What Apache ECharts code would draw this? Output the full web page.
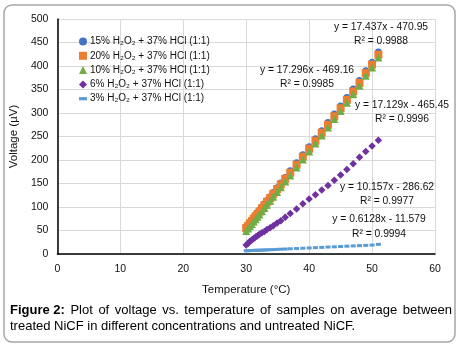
<!DOCTYPE html>
<html><head><meta charset="utf-8">
<script src="https://cdn.jsdelivr.net/npm/echarts@6/dist/echarts.min.js"></script>
<style>html,body{margin:0;padding:0;background:#fff}#c{width:462px;height:347px}</style>
</head><body><div id="c"></div><script>
// ---- data ----
const temps = [30.0, 30.3, 30.6, 30.9, 31.2, 31.5, 31.8, 32.1, 32.5, 32.9, 33.3, 33.8, 34.3, 34.9, 35.5, 36.2, 37.0, 38.0, 39.0, 40.0, 41.0, 42.0, 43.0, 44.0, 45.0, 46.0, 47.0, 48.0, 49.0, 50.0, 51.0];
const v15 = [58, 63, 68, 73, 78, 83, 88, 93, 100, 107, 114, 122, 131, 141, 151, 163, 177, 194, 211, 228, 245, 262, 280, 298, 315, 333, 351, 369, 390, 408, 430];
const v20 = [55, 60, 65, 70, 75, 80, 85, 90, 97, 104, 111, 119, 128, 138, 148, 160, 173, 190, 207, 224, 241, 258, 275, 293, 310, 328, 346, 364, 385, 403, 424];
const v10 = [49, 54, 59, 64, 69, 74, 79, 84, 91, 98, 105, 113, 122, 132, 142, 154, 167, 184, 201, 218, 235, 252, 269, 287, 304, 322, 340, 358, 379, 397, 418];
const v6 = [19, 23, 27, 30, 33, 36, 39, 42, 45, 48, 52, 56, 60, 66, 71, 78, 86, 96, 107, 117, 126, 136, 146, 157, 168, 180, 192, 206, 218, 230, 242];
const v3 = [7.0, 7.1, 7.3, 7.5, 7.6, 7.8, 8.0, 8.1, 8.3, 8.6, 8.8, 9.1, 9.4, 9.8, 10.2, 10.6, 11.1, 11.7, 12.3, 12.9, 13.5, 14.1, 14.8, 15.3, 16.0, 16.6, 17.2, 17.8, 18.4, 19.0, 20.5];
const seriesNames = ['15% H\u2082O\u2082 + 37% HCl (1:1)', '20% H\u2082O\u2082 + 37% HCl (1:1)', '10% H\u2082O\u2082 + 37% HCl (1:1)', '6% H\u2082O\u2082 + 37% HCl (1:1)', '3% H\u2082O\u2082 + 37% HCl (1:1)'];
const trendEq = ['y = 17.437x - 470.95', 'y = 17.296x - 469.16', 'y = 17.129x - 465.45', 'y = 10.157x - 286.62', 'y = 0.6128x - 11.579'];
const trendR2 = ['R\u00b2 = 0.9988', 'R\u00b2 = 0.9985', 'R\u00b2 = 0.9996', 'R\u00b2 = 0.9977', 'R\u00b2 = 0.9994'];
const xName = 'Temperature (\u00b0C)';
const yName = 'Voltage (\u00b5V)';
const captionBold = 'Figure 2:';
const captionLine1 = 'Plot of voltage vs. temperature of samples on average between';
const captionLine2 = 'treated NiCF in different concentrations and untreated NiCF.';

// ---- styles ----
const FONT = 'Liberation Sans, Arial, sans-serif';
const colors = ['#4472C4', '#ED7D31', '#70AD47', '#7030A0', '#5B9BD5'];
const dashPath = 'path://M0,0h5v2h-5z';
const symbols = ['circle', 'rect', 'triangle', 'diamond', dashPath];
const sizes = [7, 8, 8, 7.5, [5, 3]];
const values = [v15, v20, v10, v6, v3];

const chart = echarts.init(document.getElementById('c'), null, {renderer: 'canvas'});

const series = values.map((vals, k) => ({
  name: seriesNames[k],
  type: 'scatter',
  data: temps.map((t, i) => [t, vals[i]]),
  symbol: symbols[k],
  symbolSize: sizes[k],
  itemStyle: {color: colors[k], opacity: 1},
  z: 2 + k,
  emphasis: {disabled: true}
}));

// trend labels: [centerX, eqY, r2Y]
const labelPos = [[381, 27, 41], [307, 70, 84], [402, 105, 119], [387, 187, 201], [379, 219, 234]];
const graphics = [];
labelPos.forEach((p, k) => {
  graphics.push({type: 'text', x: p[0], y: p[1], style: {text: trendEq[k], font: '10.3px ' + FONT, fill: '#111', align: 'center', verticalAlign: 'middle'}, z: 20});
  graphics.push({type: 'text', x: p[0], y: p[2], style: {text: trendR2[k], font: '10.3px ' + FONT, fill: '#111', align: 'center', verticalAlign: 'middle'}, z: 20});
});

// caption (justified first line)
const capFont = '13px ' + FONT;
const capBold = 'bold 13px ' + FONT;
const cv = document.createElement('canvas').getContext('2d');
const L = 10, R = 452, y1 = 310, y2 = 326;
const words = [{t: captionBold, f: capBold}].concat(captionLine1.split(' ').map(w => ({t: w, f: capFont})));
let total = 0;
words.forEach(w => { cv.font = w.f; w.w = cv.measureText(w.t).width; total += w.w; });
const gap = (R - L - total) / (words.length - 1);
let cx = L;
words.forEach(w => {
  graphics.push({type: 'text', x: cx, y: y1, style: {text: w.t, font: w.f, fill: '#000', align: 'left', verticalAlign: 'middle'}});
  cx += w.w + gap;
});
graphics.push({type: 'text', x: L, y: y2, style: {text: captionLine2, font: capFont, fill: '#000', align: 'left', verticalAlign: 'middle'}});
// frame
graphics.push({type: 'rect', shape: {x: 4, y: 5, width: 451, height: 337, r: 8}, style: {fill: 'none', stroke: '#a6a6a6', lineWidth: 1.5}, z: 30});

chart.setOption({
  animation: false,
  backgroundColor: '#fff',
  grid: {left: 56, right: 27, top: 19, bottom: 93, containLabel: false},
  legend: {
    orient: 'vertical', left: 74, top: 31, itemWidth: 8, itemHeight: 8, itemGap: 3.3,
    symbolKeepAspect: true,
    textStyle: {fontFamily: FONT, fontSize: 10, color: '#111', lineHeight: 11, padding: [0, 0, 0, -2]},
    data: seriesNames.map((n, k) => ({name: n, icon: symbols[k], itemStyle: {color: colors[k]}}))
  },
  xAxis: {
    type: 'value', min: 0, max: 60, interval: 10,
    name: xName, nameLocation: 'middle', nameGap: 30,
    nameTextStyle: {fontFamily: FONT, fontSize: 11.5, color: '#111'},
    axisLine: {show: true, onZero: false, lineStyle: {color: '#000', width: 1.5}},
    axisTick: {show: false},
    axisLabel: {fontFamily: FONT, fontSize: 10.5, color: '#111', margin: 10},
    splitLine: {show: true, lineStyle: {color: '#d9d9d9', width: 1}}
  },
  yAxis: {
    type: 'value', min: 0, max: 500, interval: 50,
    name: yName, nameLocation: 'middle', nameGap: 31,
    nameTextStyle: {fontFamily: FONT, fontSize: 11.5, color: '#111'},
    axisLine: {show: true, onZero: false, lineStyle: {color: '#000', width: 1.5}},
    axisTick: {show: false},
    axisLabel: {fontFamily: FONT, fontSize: 10.5, color: '#111', margin: 9},
    splitLine: {show: true, lineStyle: {color: '#d9d9d9', width: 1}}
  },
  graphic: graphics,
  series: series
});
</script></body></html>
